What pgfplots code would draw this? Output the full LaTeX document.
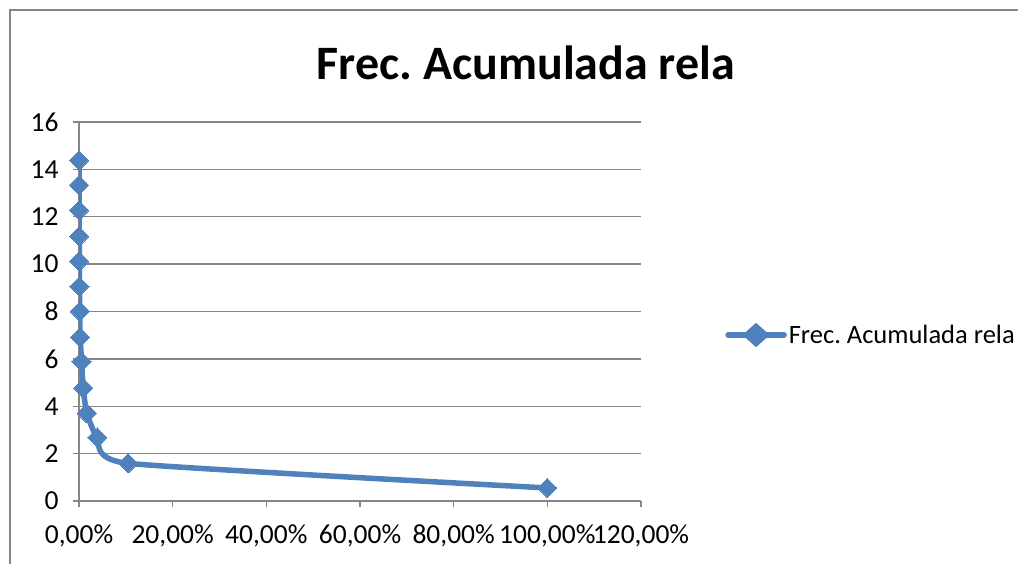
\documentclass[border=0pt]{standalone}
\usepackage{fontspec}
\setmainfont{Carlito}
\usepackage{pgfplots}
\pgfplotsset{compat=1.18}
\definecolor{serie}{HTML}{4F81BD}
\definecolor{gridgray}{HTML}{868686}
\begin{document}
\frenchspacing
\begin{tikzpicture}
\path[use as bounding box] (0pt,0pt) rectangle (1018pt,564pt);
\draw[gridgray,line width=1.5pt] (10pt,0pt) -- (10pt,554pt) -- (1018pt,554pt);
\node[font=\fontsize{48}{54}\selectfont\bfseries,anchor=center] at (526pt,501pt) {Frec. Acumulada rela};
\begin{axis}[
  at={(79pt,63pt)}, anchor=south west,
  width=562pt, height=379pt, scale only axis,
  xmin=0, xmax=120, ymin=0, ymax=16,
  xtick={0,20,40,60,80,100,120},
  xticklabels={{0,00\%},{20,00\%},{40,00\%},{60,00\%},{80,00\%},{100,00\%},{120,00\%}},
  ytick={0,2,4,6,8,10,12,14,16},
  /pgf/number format/assume math mode=true,
  axis x line*=bottom, axis y line*=left,
  axis line style={gridgray,line width=1.3pt},
  ymajorgrids, grid style={gridgray,line width=1.3pt},
  tick style={gridgray,line width=1.3pt},
  tick align=outside, major tick length=6pt,
  ticklabel style={font=\fontsize{27.5}{32}\selectfont},
  xticklabel style={yshift=-14pt},
  yticklabel style={xshift=-11pt},
  legend style={at={(1.15,0.438)}, anchor=west, draw=none, fill=none,
    font=\fontsize{26.5}{32}\selectfont, inner sep=0pt, outer sep=0pt},
  legend image code/.code={%
    \draw[serie,line width=5.5pt,line cap=round] (0pt,0pt) -- (56pt,0pt);
    \fill[serie] (28pt,0pt) +(0,8.5pt) -- +(9.5pt,0) -- +(0,-8.5pt) -- +(-9.5pt,0) -- cycle;
  },
  legend cell align=left,
]
\addplot[serie, line width=5.5pt, smooth, tension=0.3, mark=square*, mark size=6.8pt,
  mark options={rotate=45, line width=0pt, fill=serie, draw=serie}]
coordinates {
(100,0.55) (10.5,1.59) (3.9,2.68) (1.65,3.71) (0.9,4.77) (0.55,5.89)
(0.25,6.92) (0.15,8.01) (0.1,9.06) (0.07,10.12) (0.05,11.18)
(0.03,12.27) (0.02,13.34) (0.01,14.38)
};
\addlegendentry{Frec. Acumulada rela}
\end{axis}
\end{tikzpicture}
\end{document}
